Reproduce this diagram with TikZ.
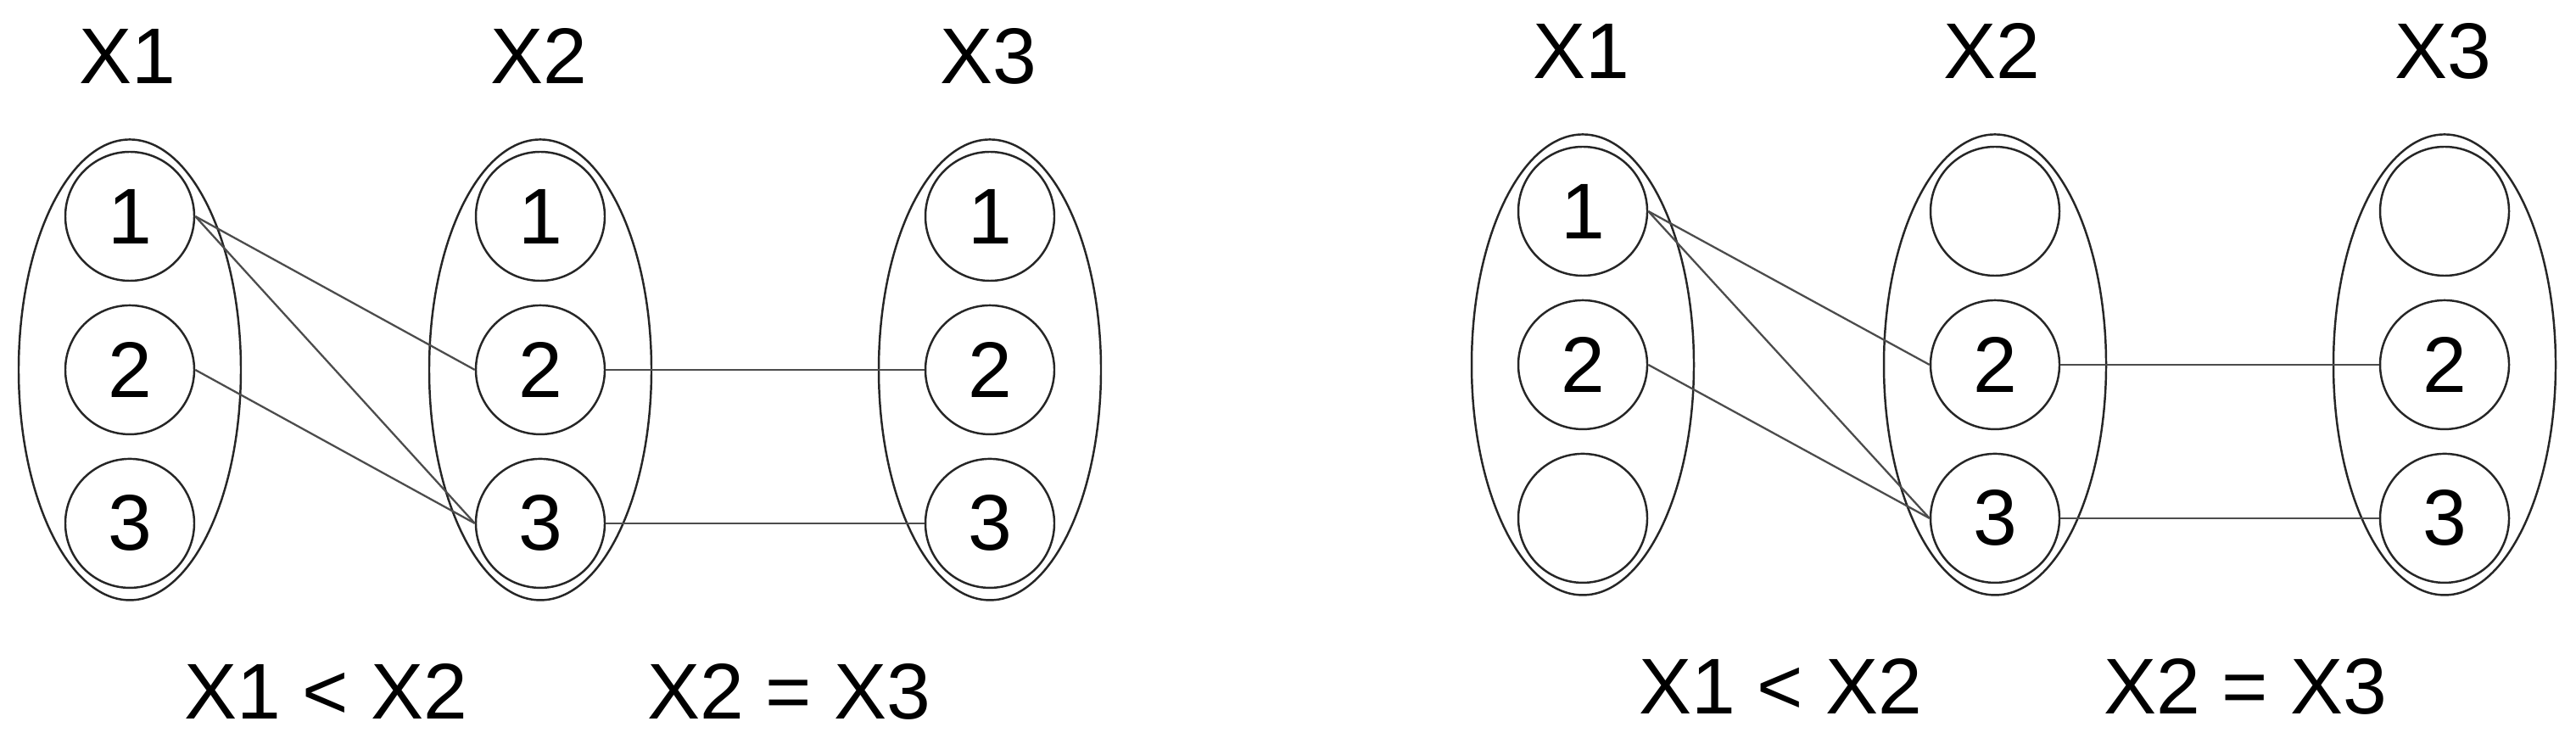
\documentclass[tikz,border=0pt]{standalone}
\usepackage{fontspec}
\setmainfont{Liberation Sans}
\usetikzlibrary{positioning, shapes.geometric}

\begin{document}
\begin{tikzpicture}[node distance = 0.265cm,
		dom/.style = {draw = black!85, line width = 0.7pt, ellipse, minimum width = 2.62cm, minimum height = 5.43cm, inner sep = 0pt},
		val/.style = {draw = black!85, line width = 0.7pt, circle, minimum size = 1.52cm, inner sep = 0pt, font = \fontsize{26.5}{31}\selectfont},
		lab/.style = {inner sep = 0pt, font = \fontsize{26.5}{31}\selectfont},
		con/.style = {draw = black!70, line width = 0.65pt}]
		\useasboundingbox (0,0) rectangle (30.37,8.89);
		% left picture
		\node[val] (a11) at (1.53,6.34) {1};
		\node[val, below = of a11] (a12) {2};
		\node[val, below = of a12] (a13) {3};
		\node[dom] (aX1) at (a12) {};
		\node[val] (a21) at (6.37,6.34) {1};
		\node[val, below = of a21] (a22) {2};
		\node[val, below = of a22] (a23) {3};
		\node[dom] (aX2) at (a22) {};
		\node[val] (a31) at (11.67,6.34) {1};
		\node[val, below = of a31] (a32) {2};
		\node[val, below = of a32] (a33) {3};
		\node[dom] (aX3) at (a32) {};
		\node[lab] (aL1) at (1.50,8.23) {X1};
		\node[lab] (aL2) at (6.35,8.23) {X2};
		\node[lab] (aL3) at (11.65,8.23) {X3};
		\node[lab] (aC12) at (3.84,0.74) {X1 < X2};
		\node[lab] (aC23) at (9.30,0.74) {X2 = X3};
		\draw[con] (a11.east) -- (a22.west);
		\draw[con] (a11.east) -- (a23.west);
		\draw[con] (a12.east) -- (a23.west);
		\draw[con] (a22.east) -- (a32.west);
		\draw[con] (a23.east) -- (a33.west);
		% right picture
		\node[val] (b11) at (18.66,6.40) {1};
		\node[val, below = of b11] (b12) {2};
		\node[val, below = of b12] (b13) {};
		\node[dom] (bX1) at (b12) {};
		\node[val] (b21) at (23.52,6.40) {};
		\node[val, below = of b21] (b22) {2};
		\node[val, below = of b22] (b23) {3};
		\node[dom] (bX2) at (b22) {};
		\node[val] (b31) at (28.82,6.40) {};
		\node[val, below = of b31] (b32) {2};
		\node[val, below = of b32] (b33) {3};
		\node[dom] (bX3) at (b32) {};
		\node[lab] (bL1) at (18.64,8.29) {X1};
		\node[lab] (bL2) at (23.48,8.29) {X2};
		\node[lab] (bL3) at (28.80,8.29) {X3};
		\node[lab] (bC12) at (20.99,0.80) {X1 < X2};
		\node[lab] (bC23) at (26.47,0.80) {X2 = X3};
		\draw[con] (b11.east) -- (b22.west);
		\draw[con] (b11.east) -- (b23.west);
		\draw[con] (b12.east) -- (b23.west);
		\draw[con] (b22.east) -- (b32.west);
		\draw[con] (b23.east) -- (b33.west);
	\end{tikzpicture}
\end{document}
